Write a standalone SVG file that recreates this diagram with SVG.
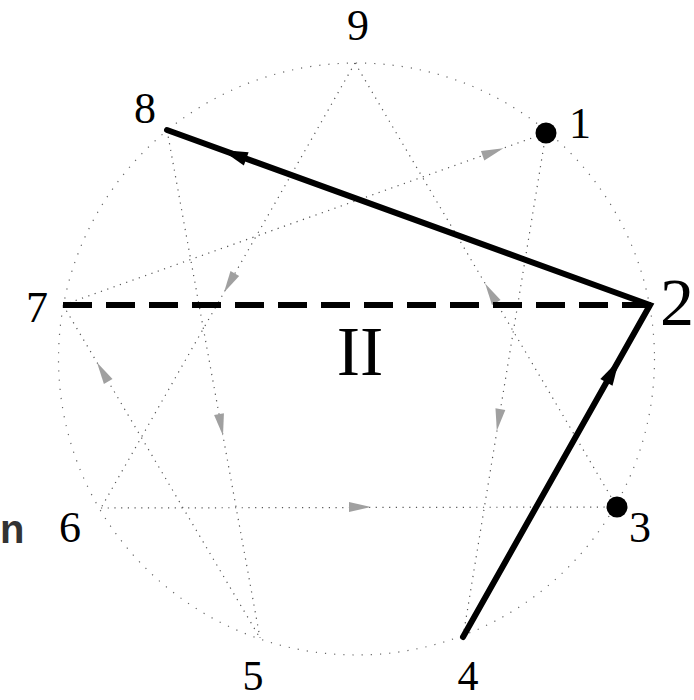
<svg xmlns="http://www.w3.org/2000/svg" width="694" height="700" viewBox="0 0 694 700">
<style>
.lbl{font-family:"Liberation Serif","Times New Roman",serif;font-size:44px;fill:#000;text-anchor:middle}
.big{font-size:68px}
.dot{fill:none;stroke:#555;stroke-width:1.2;stroke-dasharray:1.2 5.5}
.circ{fill:none;stroke:#666;stroke-width:1.2;stroke-dasharray:1.2 8}
.thick{fill:none;stroke:#000;stroke-width:6;stroke-linecap:round;stroke-linejoin:miter}
.dash{fill:none;stroke:#000;stroke-width:6;stroke-dasharray:29 14}
.ga{fill:#a0a0a0}
.ba{fill:#000}
</style>
<defs>
<path id="garrow" d="M11 0 L-11 -5 L-11 5 Z"/>
<path id="barrow" d="M13 0 L-13 -7 L-13 7 Z"/>
</defs>
<rect width="694" height="700" fill="#fff"/>
<ellipse class="circ" cx="356.5" cy="359" rx="298" ry="296"/>
<g id="connectors">
<path class="dot" d="M355 63 L101 508"/>
<path class="dot" d="M355 63 L617 507"/>
<path class="dot" d="M101 508 L617 507"/>
<path class="dot" d="M546 133 L463 637"/>
<path class="dot" d="M167 130 L260 638"/>
<path class="dot" d="M63 305 L260 638"/>
<path class="dot" d="M63 305 L546 133"/>
<use href="#garrow" class="ga" transform="translate(498.6 420) rotate(99.35)"/>
<use href="#garrow" class="ga" transform="translate(221 425) rotate(79.6)"/>
<use href="#garrow" class="ga" transform="translate(102.6 372) rotate(-120.6)"/>
<use href="#garrow" class="ga" transform="translate(360 507) rotate(0)"/>
<use href="#garrow" class="ga" transform="translate(229.4 283) rotate(119.7)"/>
<use href="#garrow" class="ga" transform="translate(490.7 293) rotate(-120.5)"/>
<use href="#garrow" class="ga" transform="translate(493 152) rotate(-19.6)"/>
<path class="dash" d="M63 305 L651 305"/>
<path class="thick" d="M463 637 L650 305 L167 130"/>
<use href="#barrow" class="ba" transform="translate(234 154.4) rotate(199.9)"/>
<use href="#barrow" class="ba" transform="translate(612.8 371) rotate(-60.6)"/>
<text class="lbl" x="360" y="375" style="font-size:70px">II</text>
</g>
<g id="node-9"><text class="lbl" x="358" y="40">9</text></g>
<g id="node-8"><text class="lbl" x="145" y="123">8</text></g>
<g id="node-1"><circle cx="546" cy="133" r="10.5" fill="#000"/><text class="lbl" x="580" y="138">1</text></g>
<g id="node-2"><text class="lbl big" x="677" y="325">2</text></g>
<g id="node-3"><circle cx="617" cy="507" r="10.5" fill="#000"/><text class="lbl" x="640" y="542">3</text></g>
<g id="node-4"><text class="lbl" x="468" y="690" style="font-size:42px">4</text></g>
<g id="node-5"><text class="lbl" x="253" y="690" style="font-size:42px">5</text></g>
<g id="node-6"><text class="lbl" x="70" y="542">6</text></g>
<g id="node-7"><text class="lbl" x="37" y="322">7</text></g>
<text x="0" y="543" style="font-family:'Liberation Sans',Arial,sans-serif;font-size:40px;font-weight:bold;fill:#333">n</text>
</svg>
